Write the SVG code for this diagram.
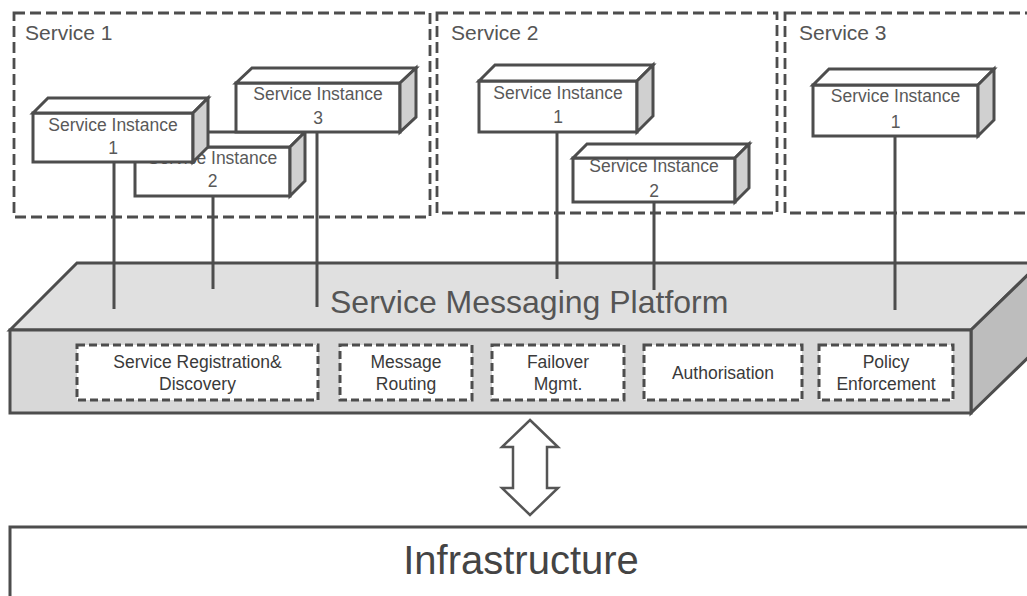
<svg xmlns="http://www.w3.org/2000/svg" width="1027" height="596" viewBox="0 0 1027 596">
<style>
.cont{fill:none;stroke:#4d4d4d;stroke-width:2.8;stroke-dasharray:11 5}
.clabel{font-family:"Liberation Sans",Arial,sans-serif;font-size:21px;fill:#555}
.front{fill:#fff;stroke:#4d4d4d;stroke-width:3;stroke-linejoin:miter}
.top{fill:#fff;stroke:#4d4d4d;stroke-width:3;stroke-linejoin:miter}
.side{fill:#d0d0d0;stroke:#4d4d4d;stroke-width:3;stroke-linejoin:miter}
.ilabel{font-family:"Liberation Sans",Arial,sans-serif;font-size:17.5px;fill:#595959;text-anchor:middle}
.conn line{stroke:#4d4d4d;stroke-width:3}
.pf-top{fill:#e0e0e0;stroke:#4d4d4d;stroke-width:3}
.pf-front{fill:#d8d8d8;stroke:#4d4d4d;stroke-width:3}
.pf-side{fill:#bdbdbd;stroke:#4d4d4d;stroke-width:3}
.mod{fill:#fff;stroke:#4d4d4d;stroke-width:3;stroke-dasharray:8 4}
.mlabel{font-family:"Liberation Sans",Arial,sans-serif;font-size:17.5px;fill:#3a3a3a;text-anchor:middle}
</style>

<g id="service1">
<rect class="cont" x="14" y="13" width="416" height="204"/>
<text class="clabel" x="25" y="40">Service 1</text>
</g>
<g id="service2">
<rect class="cont" x="437" y="13" width="340" height="200"/>
<text class="clabel" x="451" y="40">Service 2</text>
</g>
<g id="service3">
<rect class="cont" x="785" y="13" width="260" height="200"/>
<text class="clabel" x="799" y="40">Service 3</text>
</g>

<g id="s1-instance2">
<rect class="front" x="135" y="147" width="155" height="49"/>
<text class="ilabel" x="212.5" y="164">Service Instance</text>
<text class="ilabel" x="212.5" y="187">2</text>
<polygon class="top" points="135,147 150,132 305,132 290,147"/>
<polygon class="side" points="290,147 305,132 305,181 290,196"/>
</g>
<g id="s1-instance3">
<rect class="front" x="236" y="83" width="164" height="49"/>
<text class="ilabel" x="318" y="100">Service Instance</text>
<text class="ilabel" x="318" y="124">3</text>
<polygon class="top" points="236,83 252,68 416,68 400,83"/>
<polygon class="side" points="400,83 416,68 416,117 400,132"/>
</g>
<g id="s1-instance1">
<rect class="front" x="33" y="113" width="160" height="49"/>
<text class="ilabel" x="113" y="131">Service Instance</text>
<text class="ilabel" x="113" y="154">1</text>
<polygon class="top" points="33,113 48,98 208,98 193,113"/>
<polygon class="side" points="193,113 208,98 208,147 193,162"/>
</g>
<g id="s2-instance1">
<rect class="front" x="479" y="81" width="158" height="51"/>
<text class="ilabel" x="558" y="99">Service Instance</text>
<text class="ilabel" x="558" y="123">1</text>
<polygon class="top" points="479,81 495,65 653,65 637,81"/>
<polygon class="side" points="637,81 653,65 653,116 637,132"/>
</g>
<g id="s2-instance2">
<rect class="front" x="573" y="158" width="162" height="44"/>
<text class="ilabel" x="654" y="172">Service Instance</text>
<text class="ilabel" x="654" y="197">2</text>
<polygon class="top" points="573,158 587,144 749,144 735,158"/>
<polygon class="side" points="735,158 749,144 749,188 735,202"/>
</g>
<g id="s3-instance1">
<rect class="front" x="813" y="85" width="165" height="51"/>
<text class="ilabel" x="895.5" y="102">Service Instance</text>
<text class="ilabel" x="895.5" y="128">1</text>
<polygon class="top" points="813,85 829,69 994,69 978,85"/>
<polygon class="side" points="978,85 994,69 994,120 978,136"/>
</g>

<g id="platform">
<polygon class="pf-top" points="10,330 77,263 1040,263 971,330"/>
<polygon class="pf-side" points="971,330 1040,263 1040,346 971,413"/>
<rect class="pf-front" x="10" y="330" width="961" height="83"/>
</g>

<g id="connectors" class="conn">
<line x1="114" y1="162" x2="114" y2="309"/>
<line x1="213" y1="196" x2="213" y2="289"/>
<line x1="317" y1="132" x2="317" y2="307"/>
<line x1="557" y1="132" x2="557" y2="279"/>
<line x1="654" y1="202" x2="654" y2="290"/>
<line x1="895" y1="136" x2="895" y2="310"/>
</g>

<text x="330" y="313" font-family="Liberation Sans, Arial, sans-serif" font-size="32" fill="#555">Service Messaging Platform</text>

<g id="registration">
<rect class="mod" x="77" y="345" width="241" height="55"/>
<text class="mlabel" x="197.5" y="368">Service Registration&amp;</text>
<text class="mlabel" x="197.5" y="390">Discovery</text>
</g>
<g id="routing">
<rect class="mod" x="340" y="345" width="132" height="55"/>
<text class="mlabel" x="406" y="368">Message</text>
<text class="mlabel" x="406" y="390">Routing</text>
</g>
<g id="failover">
<rect class="mod" x="492" y="345" width="132" height="55"/>
<text class="mlabel" x="558" y="368">Failover</text>
<text class="mlabel" x="558" y="390">Mgmt.</text>
</g>
<g id="authorisation">
<rect class="mod" x="644" y="345" width="158" height="55"/>
<text class="mlabel" x="723" y="379">Authorisation</text>
</g>
<g id="policy">
<rect class="mod" x="819" y="345" width="134" height="55"/>
<text class="mlabel" x="886" y="368">Policy</text>
<text class="mlabel" x="886" y="390">Enforcement</text>
</g>

<g id="arrow">
<polygon points="530,420 558,447 547,447 547,488 558,488 530,515 502,488 513,488 513,447 502,447" fill="#fff" stroke="#555" stroke-width="2.5" stroke-linejoin="miter"/>
</g>

<g id="infrastructure">
<rect x="10" y="527" width="1040" height="100" fill="#fff" stroke="#4d4d4d" stroke-width="3"/>
<text x="521" y="574" font-family="Liberation Sans, Arial, sans-serif" font-size="40" fill="#444" text-anchor="middle">Infrastructure</text>
</g>
</svg>
